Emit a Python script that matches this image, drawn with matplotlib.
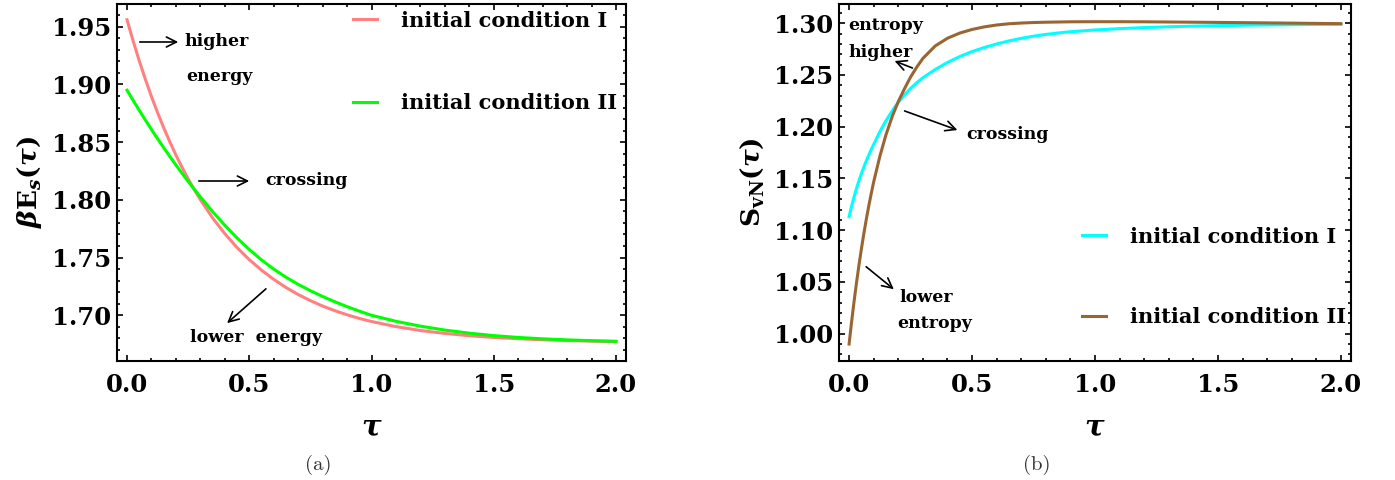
import numpy as np
import matplotlib
matplotlib.use("Agg")
import matplotlib.pyplot as plt
from matplotlib.ticker import MultipleLocator

plt.rcParams['font.family'] = ['DejaVu Serif']
plt.rcParams['font.weight'] = 'bold'
plt.rcParams['mathtext.fontset'] = 'custom'
plt.rcParams['mathtext.rm'] = 'DejaVu Serif:bold'
plt.rcParams['mathtext.it'] = 'DejaVu Serif:italic:bold'
plt.rcParams['mathtext.bf'] = 'DejaVu Serif:bold'

# (a) energy
tau_E = [0.0, 0.025, 0.05, 0.075, 0.1, 0.125, 0.15, 0.175, 0.2, 0.225, 0.25,
         0.275, 0.3, 0.35, 0.4, 0.45, 0.5, 0.55, 0.6, 0.65, 0.7, 0.75, 0.8,
         0.85, 0.9, 0.95, 1.0, 1.1, 1.2, 1.3, 1.4, 1.5, 1.6, 1.7, 1.8, 1.9,
         2.0]
energy_I = [1.956, 1.9377, 1.9205, 1.9045, 1.8895, 1.8756, 1.8625, 1.8503,
            1.8388, 1.8282, 1.8182, 1.8089, 1.8002, 1.7844, 1.7707, 1.7587,
            1.7482, 1.7391, 1.7311, 1.7241, 1.718, 1.7127, 1.708, 1.704,
            1.7004, 1.6973, 1.6946, 1.6902, 1.6868, 1.6843, 1.6823, 1.6808,
            1.6797, 1.6788, 1.6781, 1.6776, 1.6772]
energy_II = [1.895, 1.8862, 1.8776, 1.8692, 1.861, 1.853, 1.8452, 1.8376,
             1.8302, 1.823, 1.816, 1.8092, 1.8026, 1.7898, 1.778, 1.767,
             1.757, 1.748, 1.74, 1.733, 1.7268, 1.7213, 1.7163, 1.7117,
             1.7075, 1.7036, 1.7, 1.6948, 1.6906, 1.6872, 1.6845, 1.6824,
             1.6808, 1.6796, 1.6787, 1.678, 1.6775]

# (b) entropy
tau_S = [0.0, 0.01, 0.02, 0.03, 0.04, 0.05, 0.06, 0.07, 0.08, 0.09, 0.1,
         0.125, 0.15, 0.175, 0.2, 0.225, 0.25, 0.275, 0.3, 0.35, 0.4, 0.45,
         0.5, 0.55, 0.6, 0.65, 0.7, 0.75, 0.8, 0.85, 0.9, 1.0, 1.1, 1.2,
         1.3, 1.4, 1.5, 1.6, 1.8, 2.0]
entropy_I = [1.113, 1.123, 1.132, 1.1402, 1.1477, 1.1546, 1.161, 1.167,
             1.1726, 1.1779, 1.1829, 1.1951, 1.2058, 1.2152, 1.2235, 1.2307,
             1.237, 1.2425, 1.2473, 1.2553, 1.2621, 1.2678, 1.2726, 1.2766,
             1.28, 1.2829, 1.2854, 1.2875, 1.2892, 1.2906, 1.2918, 1.2935,
             1.2948, 1.2958, 1.2966, 1.2972, 1.2977, 1.2981, 1.2986, 1.299]
entropy_II = [0.99, 1.011, 1.0306, 1.0489, 1.0659, 1.0818, 1.0967, 1.1105,
              1.1234, 1.1354, 1.1466, 1.1713, 1.1922, 1.2096, 1.2243, 1.2366,
              1.248, 1.2575, 1.266, 1.278, 1.2855, 1.2905, 1.294, 1.2965,
              1.2983, 1.2995, 1.3002, 1.3007, 1.301, 1.3012, 1.3014, 1.3015,
              1.3015, 1.3014, 1.3012, 1.301, 1.3008, 1.3006, 1.3001, 1.2996]

labels = ['initial condition I', 'initial condition II']

fig = plt.figure(figsize=(13.95, 4.80), dpi=100)
ax1 = fig.add_axes([117/1395, 1-361/480, 509/1395, 357/480])
ax2 = fig.add_axes([839/1395, 1-361/480, 512/1395, 357/480])


def style(ax):
    for s in ax.spines.values():
        s.set_linewidth(1.5)
    ax.tick_params(which='both', direction='in', top=True, right=True,
                   width=1.2, labelsize=17.5)
    ax.tick_params(which='major', length=4.5)
    ax.tick_params(which='minor', length=2.5)
    ax.tick_params(axis='x', pad=9)
    ax.tick_params(axis='y', pad=4)
    ax.set_xlim(-0.041, 2.041)
    ax.xaxis.set_major_locator(MultipleLocator(0.5))
    ax.xaxis.set_minor_locator(MultipleLocator(0.1))
    ax.yaxis.set_major_locator(MultipleLocator(0.05))
    ax.yaxis.set_minor_locator(MultipleLocator(0.01))
    ax.xaxis.set_major_formatter(lambda v, p: f'{v:.1f}')
    ax.yaxis.set_major_formatter(lambda v, p: f'{v:.2f}')
    ax.set_xlabel(r'$\tau$', fontsize=21, labelpad=12)


# ---- panel (a)
l1, = ax1.plot(tau_E, energy_I, color='#ff8080', lw=2.2)
l2, = ax1.plot(tau_E, energy_II, color='#00ff00', lw=2.2)
style(ax1)
ax1.set_ylim(1.6604, 1.9697)
ax1.set_ylabel(r'$\beta\mathrm{E}_s(\tau)$', fontsize=19, labelpad=6)
ax1.legend([l1, l2], labels, loc='upper left', bbox_to_anchor=(0.4637, 0.981),
           frameon=False, fontsize=15, handlelength=1.15, handletextpad=1.15,
           labelspacing=3.0, borderpad=0, borderaxespad=0)

arw = dict(arrowstyle='->', color='black', lw=1.2, mutation_scale=18)
def px(ax, x, y):
    # pixel position in the figure -> data coordinates
    inv = ax.transData.inverted()
    return inv.transform((x, 480 - y))

ax1.annotate('', xy=px(ax1, 181, 42), xytext=px(ax1, 137, 42), arrowprops=arw)
ax1.text(*px(ax1, 184, 42), 'higher', fontsize=12.5, va='center')
ax1.text(*px(ax1, 186, 77), 'energy', fontsize=12.5, va='center')
ax1.annotate('', xy=px(ax1, 252, 181), xytext=px(ax1, 196, 181), arrowprops=arw)
ax1.text(*px(ax1, 265, 181), 'crossing', fontsize=12.5, va='center')
ax1.annotate('', xy=px(ax1, 225, 325), xytext=px(ax1, 268, 287), arrowprops=arw)
ax1.text(*px(ax1, 190, 338), 'lower  energy', fontsize=12.5, va='center')

# ---- panel (b)
c1, = ax2.plot(tau_S, entropy_I, color='#00ffff', lw=2.2)
c2, = ax2.plot(tau_S, entropy_II, color='#996633', lw=2.2)
style(ax2)
ax2.set_ylim(0.9736, 1.3186)
ax2.set_ylabel(r'$\mathrm{S}_{\mathrm{vN}}(\tau)$', fontsize=19, labelpad=6)
ax2.legend([c1, c2], labels, loc='upper left', bbox_to_anchor=(0.4746, 0.376),
           frameon=False, fontsize=15, handlelength=1.15, handletextpad=1.15,
           labelspacing=2.9, borderpad=0, borderaxespad=0)

ax2.text(*px(ax2, 848, 25), 'entropy', fontsize=12.5, va='center')
ax2.text(*px(ax2, 848, 52), 'higher', fontsize=12.5, va='center')
ax2.annotate('', xy=px(ax2, 892, 60), xytext=px(ax2, 915, 69), arrowprops=arw)
ax2.annotate('', xy=px(ax2, 960, 131), xytext=px(ax2, 902, 110), arrowprops=arw)
ax2.text(*px(ax2, 966, 135), 'crossing', fontsize=12.5, va='center')
ax2.annotate('', xy=px(ax2, 896, 291), xytext=px(ax2, 864, 265), arrowprops=arw)
ax2.text(*px(ax2, 899, 298), 'lower', fontsize=12.5, va='center')
ax2.text(*px(ax2, 897, 323), 'entropy', fontsize=12.5, va='center')

fig.text(318/1395, 1-465/480, '(a)', ha='center', va='center', fontsize=15,
         family='cmr10', fontweight='normal', color='#333333')
fig.text(1037/1395, 1-465/480, '(b)', ha='center', va='center', fontsize=15,
         family='cmr10', fontweight='normal', color='#333333')

fig.savefig('out.png', dpi=100)
